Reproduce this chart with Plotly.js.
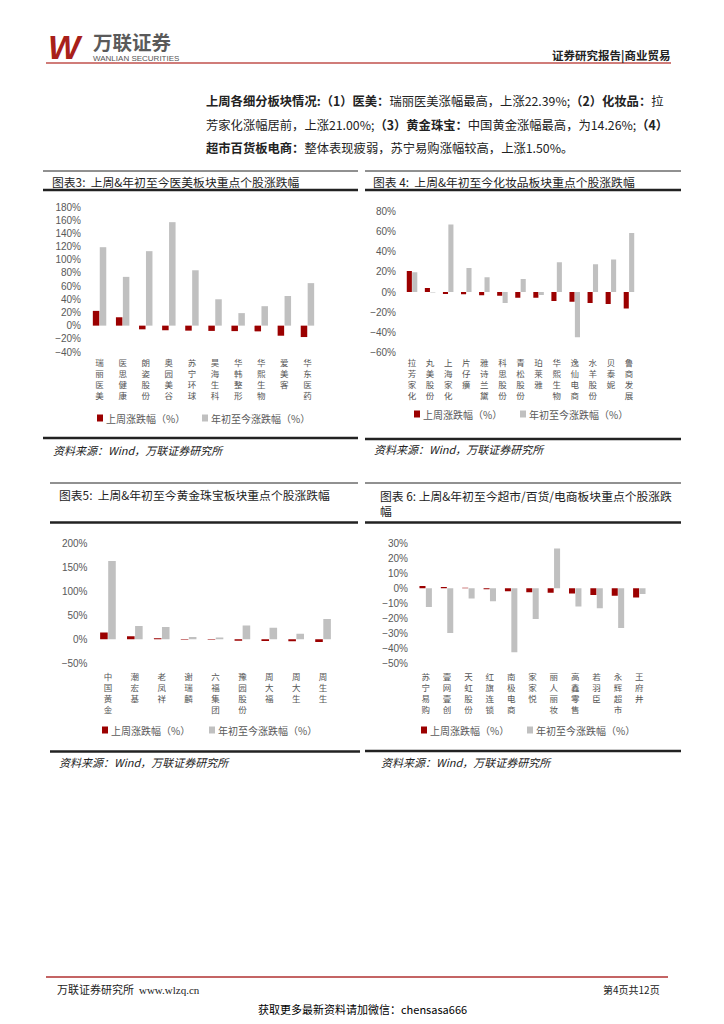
<!DOCTYPE html>
<html><head><meta charset="utf-8">
<script src="https://cdn.plot.ly/plotly-3.0.1.min.js"></script>
<style>html,body{margin:0;padding:0;background:#fff;}#page{width:724px;height:1024px;}</style>
</head><body><div id="page"></div>
<script>
// ---------- data ----------
const seriesNames = ['上周涨跌幅（%）', '年初至今涨跌幅（%）'];

const cat3 = ['瑞丽医美','医思健康','朗姿股份','奥园美谷','苏宁环球','昊海生科','华韩整形','华熙生物','爱美客','华东医药'];
const week3 = [22.39, 12.7, -5.6, -7.0, -7.6, -8.0, -8.3, -8.7, -15.3, -17.3];
const ytd3 = [119, 74, 113, 157, 84, 40, 19, 29.5, 45, 64.5];

const cat4 = ['拉芳家化','丸美股份','上海家化','片仔癀','雅诗兰黛','科思股份','青松股份','珀莱雅','华熙生物','逸仙电商','水羊股份','贝泰妮','鲁商发展'];
const week4 = [21.0, 4, -2, -2.3, -3.3, -3.7, -5.7, -5.7, -9, -9.7, -11, -12, -16.3];
const ytd4 = [19.7, -0.5, 67.3, 24, 14.7, -11, 13, -3, 29.7, -45, 27.7, 32.3, 58.7];

const cat5 = ['中国黄金','潮宏基','老凤祥','谢瑞麟','六福集团','豫园股份','周大福','周大生','周生生'];
const week5 = [14.26, 6.2, 2, -1, -1, -2.8, -3.5, -4, -5.5];
const ytd5 = [163, 27.8, 25.7, 4.9, 3.5, 28.5, 24.3, 11.8, 42.4];

const cat6 = ['苏宁易购','壹网壹创','天虹股份','红旗连锁','南极电商','家家悦','丽人丽妆','高鑫零售','若羽臣','永辉超市','王府井'];
const week6 = [1.5, 0.9, 0.4, -0.7, -2, -2.7, -2.9, -3.4, -4.5, -5, -6.1];
const ytd6 = [-12.4, -29.8, -6.8, -8.6, -42.7, -20.5, 26.6, -12.2, -13.3, -26.4, -3.8];

const titles = [
  '图表3:  上周&年初至今医美板块重点个股涨跌幅',
  '图表 4:  上周&年初至今化妆品板块重点个股涨跌幅',
  '图表5:  上周&年初至今黄金珠宝板块重点个股涨跌幅',
  '图表 6: 上周&年初至今超市/百货/电商板块重点个股涨跌<br>幅'
];
const sourceText = '资料来源：Wind，万联证券研究所';

// ---------- helpers ----------
const W = 724, H = 1024;
const RED = '#9b0000', GRAY = '#c0c0c0';
const CJK = '"Noto Sans CJK SC", sans-serif';
const px = v => v / W;
const py = v => 1 - v / H;
const vert = s => s.split('').join('<br>');

const traces = [];
const layout = {
  width: W, height: H, margin: {l: 0, r: 0, t: 0, b: 0},
  paper_bgcolor: '#fff', plot_bgcolor: 'rgba(0,0,0,0)',
  showlegend: false, barmode: 'group', bargap: 0.4, bargroupgap: 0.06,
  shapes: [], annotations: []
};

function addChart(n, cats, week, ytd, box) {
  const xa = n === 1 ? 'x' : 'x' + n, ya = n === 1 ? 'y' : 'y' + n;
  traces.push({type: 'bar', x: cats, y: week, name: seriesNames[0], marker: {color: RED}, xaxis: xa, yaxis: ya, hoverinfo: 'none'});
  traces.push({type: 'bar', x: cats, y: ytd, name: seriesNames[1], marker: {color: GRAY}, xaxis: xa, yaxis: ya, hoverinfo: 'none'});
  const xk = n === 1 ? 'xaxis' : 'xaxis' + n, yk = n === 1 ? 'yaxis' : 'yaxis' + n;
  layout[xk] = {
    domain: [px(box.x0), px(box.x1)], anchor: ya, type: 'category',
    tickmode: 'array', tickvals: cats, ticktext: cats.map(vert),
    showline: false, showgrid: false, zeroline: false, ticks: '',
    tickfont: {family: CJK, size: 8.5, color: '#555'}, tickangle: 0, ticklabelstandoff: box.xso || 3
  };
  layout[yk] = {
    domain: [py(box.yb), py(box.yt)], anchor: xa, range: box.range, dtick: box.dtick,
    tick0: 0, ticksuffix: '%', showline: false, showgrid: false, zeroline: false, ticks: '',
    tickfont: {family: 'Liberation Sans, Arial, sans-serif', size: 10, color: '#595959'},
    ticklabelstandoff: 6, fixedrange: true
  };
  // legend drawn from series names
  const lg = box.legend;
  [0, 1].forEach(i => {
    const sx = lg.xs[i];
    layout.shapes.push({type: 'rect', xref: 'paper', yref: 'paper',
      x0: px(sx), x1: px(sx + 6), y0: py(lg.y + 3.5), y1: py(lg.y - 3.5),
      fillcolor: i === 0 ? RED : GRAY, line: {width: 0}});
    layout.annotations.push({xref: 'paper', yref: 'paper', x: px(sx + 7), y: py(lg.y),
      xanchor: 'left', yanchor: 'middle', showarrow: false, text: seriesNames[i],
      font: {family: CJK, size: 10, color: '#595959'}});
  });
}

addChart(1, cat3, week3, ytd3, {x0: 88, x1: 319, yt: 207, yb: 352, range: [-40, 180], dtick: 20,
  legend: {y: 418, xs: [97, 202]}, xso: 4});
addChart(2, cat4, week4, ytd4, {x0: 403, x1: 638, yt: 211.7, yb: 352.3, range: [-60, 80], dtick: 20,
  legend: {y: 414, xs: [414, 520]}, xso: 4});
addChart(3, cat5, week5, ytd5, {x0: 94.5, x1: 336.5, yt: 543.3, yb: 663.3, range: [-50, 200], dtick: 50,
  legend: {y: 730, xs: [102, 209]}, xso: 7});
addChart(4, cat6, week6, ytd6, {x0: 415, x1: 650, yt: 543.3, yb: 663.3, range: [-50, 30], dtick: 10,
  legend: {y: 730, xs: [421, 527]}, xso: 7});

// ---------- frame lines ----------
function hline(y, x0, x1, w, c) {
  layout.shapes.push({type: 'line', xref: 'paper', yref: 'paper', x0: px(x0), x1: px(x1), y0: py(y), y1: py(y),
    line: {color: c || '#222', width: w}});
}
hline(63, 46, 671, 1.5, '#c0504d');
hline(171, 43, 358, 1); hline(190, 43, 358, 2.5); hline(438, 43, 358, 2.5);
hline(171, 365, 681, 1); hline(190, 365, 681, 2.5); hline(439, 365, 681, 2.5);
hline(483, 50, 358, 1); hline(522.5, 50, 358, 2.5); hline(751.5, 50, 360, 2.5);
hline(483, 365, 681, 1); hline(522.5, 365, 681, 2.5); hline(751, 365, 681, 2.5);
hline(977, 46, 668, 1.5, '#b03030');

// ---------- texts ----------
function txt(text, x, y, size, opts) {
  opts = opts || {};
  layout.annotations.push(Object.assign({xref: 'paper', yref: 'paper', x: px(x), y: py(y),
    xanchor: 'left', yanchor: 'middle', showarrow: false, text: text, align: 'left',
    font: {family: CJK, size: size, color: '#222'}}, opts));
}
txt(titles[0], 50, 181, 11.8);
txt(titles[1], 371, 181, 11.8);
txt(titles[2], 57, 494, 11.8);
txt(titles[3], 378, 503, 11.8);
txt('<i>' + sourceText + '</i>', 51, 450, 11);
txt('<i>' + sourceText + '</i>', 372, 449, 11);
txt('<i>' + sourceText + '</i>', 57, 762, 11);
txt('<i>' + sourceText + '</i>', 379, 762, 11);

// header
txt('<b><i>W</i></b>', 46, 47, 34, {font: {family: 'Liberation Sans, Arial', size: 34, color: '#a8201a'}});
txt('<b>万联证券</b>', 91, 41, 19.5, {font: {family: CJK, size: 19.5, color: '#5a5a5a'}});
txt('WANLIAN SECURITIES', 91, 58.5, 8, {font: {family: 'Liberation Sans, Arial', size: 8, color: '#555'}});
txt('<b>证券研究报告|商业贸易</b>', 672, 55, 11.5, {xanchor: 'right'});

// paragraph
txt('<b>上周各细分板块情况:（1）医美：</b>瑞丽医美涨幅最高，上涨22.39%;<b>（2）化妆品：</b>拉', 204, 101, 12.3);
txt('芳家化涨幅居前，上涨21.00%;<b>（3）黄金珠宝：</b>中国黄金涨幅最高，为14.26%;<b>（4）</b>', 204, 125, 12.3);
txt('<b>超市百货板电商：</b>整体表现疲弱，苏宁易购涨幅较高，上涨1.50%。', 204, 148, 12.3);

// footer
txt('万联证券研究所  <span style="font-family:Liberation Serif">www.wlzq.cn</span>', 55, 989, 11);
txt('第4页共12页', 662, 989, 10, {xanchor: 'right'});
txt('获取更多最新资料请加微信：chensasa666', 362, 1009, 11, {xanchor: 'center', font: {family: CJK, size: 11, color: '#000'}});

Plotly.newPlot('page', traces, layout, {staticPlot: true, displayModeBar: false});
</script>
</body></html>
